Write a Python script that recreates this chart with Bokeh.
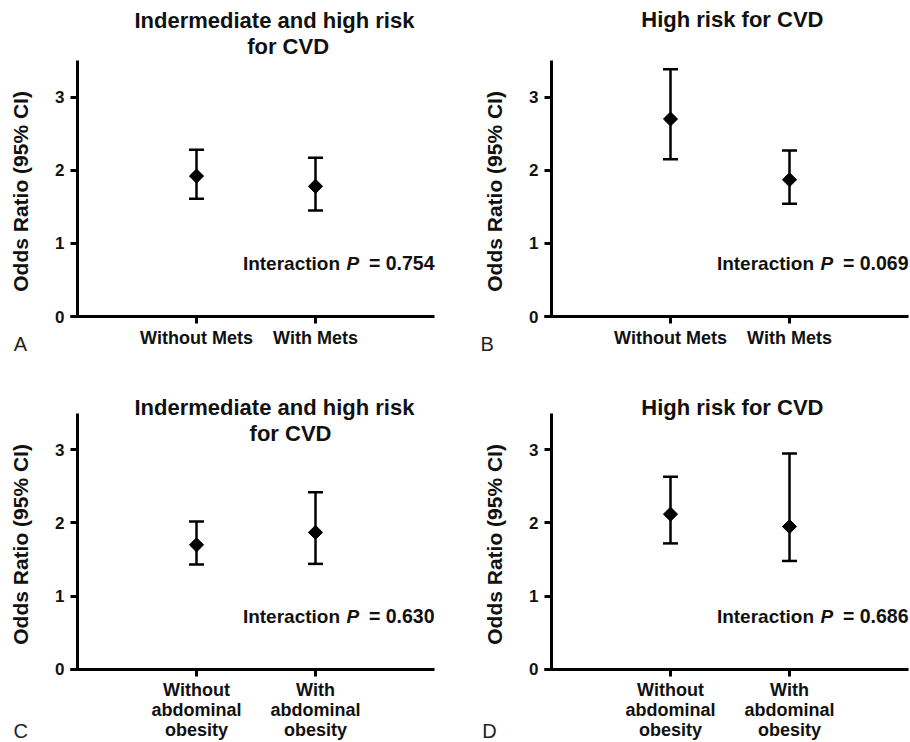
import numpy as np
from bokeh.plotting import figure
from bokeh.models import (Range1d, FixedTicker, Whisker, TeeHead, Label,
                          ColumnDataSource)
from bokeh.layouts import column, row
from bokeh.embed import file_html
from bokeh.resources import INLINE

# ---------------- data ----------------
cats_mets = ["Without Mets", "With Mets"]
cats_obes = ["Without\nabdominal\nobesity", "With\nabdominal\nobesity"]
x_pos = [1, 2]

A_or = [1.92, 1.78]
A_lo = [1.61, 1.45]
A_hi = [2.28, 2.17]

B_or = [2.70, 1.87]
B_lo = [2.15, 1.54]
B_hi = [3.38, 2.27]

C_or = [1.70, 1.87]
C_lo = [1.43, 1.44]
C_hi = [2.02, 2.42]

D_or = [2.12, 1.95]
D_lo = [1.72, 1.48]
D_hi = [2.63, 2.95]

title_A = ["Indermediate and high risk", "for CVD"]
title_B = ["High risk for CVD"]
p_vals = ["0.754", "0.069", "0.630", "0.686"]
panel_letters = ["A", "B", "C", "D"]
y_ticks = [0, 1, 2, 3]
y_max = 3.5
x_max = 3.0

FONT = "Liberation Sans"
PX_X = 119.0   # pixels per x unit
PX_Y = 73.14   # pixels per y unit


def make_panel(cats, orr, lo, hi, title_lines, title_pos, pval, letter,
               letter_pos, width, height, origin):
    ox, oy = origin  # pixel position of the (0, 0) corner inside the figure
    xr = Range1d(-ox / PX_X, (width - ox) / PX_X)
    yr = Range1d(-(height - oy) / PX_Y, oy / PX_Y)
    p = figure(width=width, height=height, output_backend="svg",
               toolbar_location=None, x_range=xr, y_range=yr,
               min_border=0, background_fill_color="white",
               border_fill_color="white", outline_line_color=None)
    p.grid.visible = False

    for ax in (p.xaxis[0], p.yaxis[0]):
        ax.axis_line_width = 3
        ax.axis_line_color = "black"
        ax.major_tick_line_width = 3
        ax.major_tick_line_color = "black"
        ax.major_tick_out = 7
        ax.major_tick_in = 0
        ax.minor_tick_line_color = None
        ax.major_label_text_font = FONT
        ax.major_label_text_font_style = "bold"
        ax.major_label_text_color = "#111111"
        ax.fixed_location = 0

    yax = p.yaxis[0]
    yax.ticker = FixedTicker(ticks=y_ticks)
    yax.bounds = (0, y_max)
    yax.major_label_text_font_size = "17px"
    yax.major_label_standoff = 6
    yax.axis_label = "Odds  Ratio (95% CI)"
    yax.axis_label_text_font = FONT
    yax.axis_label_text_font_style = "bold"
    yax.axis_label_text_font_size = "21px"
    yax.axis_label_text_color = "#111111"
    yax.axis_label_standoff = 20

    xax = p.xaxis[0]
    xax.ticker = FixedTicker(ticks=x_pos)
    xax.bounds = (-0.06, x_max)
    xax.major_label_overrides = {x: c for x, c in zip(x_pos, cats)}
    xax.major_label_text_font_size = "18px"
    xax.major_label_text_line_height = 1.0
    xax.major_label_standoff = 4

    src = ColumnDataSource(dict(x=x_pos, y=orr, lo=lo, hi=hi))
    w = Whisker(base="x", upper="hi", lower="lo", source=src,
                dimension="height", line_width=2.5, line_color="black",
                upper_head=TeeHead(size=15, line_width=2.5, line_color="black"),
                lower_head=TeeHead(size=15, line_width=2.5, line_color="black"))
    p.add_layout(w)
    p.scatter("x", "y", source=src, marker="square", angle=np.pi / 4,
              size=10, fill_color="black", line_color="black")

    for (tx, ty), line in zip(title_pos, title_lines):
        p.add_layout(Label(x=tx, y=ty, text=line, text_align="center",
                           text_baseline="middle", text_font=FONT,
                           text_font_style="bold", text_font_size="22px",
                           text_color="#111111"))

    iy = 0.726
    p.add_layout(Label(x=1.39, y=iy, text="Interaction", text_align="left",
                       text_baseline="middle", text_font=FONT,
                       text_font_style="bold", text_font_size="19px",
                       text_color="#111111"))
    p.add_layout(Label(x=2.26, y=iy, text="P", text_align="left",
                       text_baseline="middle", text_font=FONT,
                       text_font_style="bold italic", text_font_size="19px",
                       text_color="#111111"))
    p.add_layout(Label(x=3.0, y=iy, text="= " + pval, text_align="right",
                       text_baseline="middle", text_font=FONT,
                       text_font_style="bold", text_font_size="19.5px",
                       text_color="#111111"))

    p.add_layout(Label(x=letter_pos[0], y=letter_pos[1], text=letter,
                       text_align="left", text_baseline="middle",
                       text_font=FONT, text_font_style="normal",
                       text_font_size="20px", text_color="#222222"))
    return p


pA = make_panel(cats_mets, A_or, A_lo, A_hi, title_A,
                [(1.655, 4.051), (1.77, 3.698)], p_vals[0], panel_letters[0],
                (-0.535, -0.373), 455, 371, (77, 316))
pB = make_panel(cats_mets, B_or, B_lo, B_hi, title_B,
                [(1.52, 4.055)], p_vals[1], panel_letters[1],
                (-0.597, -0.373), 454, 371, (96, 316))
pC = make_panel(cats_obes, C_or, C_lo, C_hi, title_A,
                [(1.655, 3.574), (1.79, 3.227)], p_vals[2], panel_letters[2],
                (-0.538, -0.849), 455, 370, (77, 297.7))
pD = make_panel(cats_obes, D_or, D_lo, D_hi, title_B,
                [(1.52, 3.581)], p_vals[3], panel_letters[3],
                (-0.582, -0.849), 454, 370, (96, 297.7))

layout = column(row(pA, pB), row(pC, pD))
open("out.html", "w").write(file_html(layout, INLINE))
